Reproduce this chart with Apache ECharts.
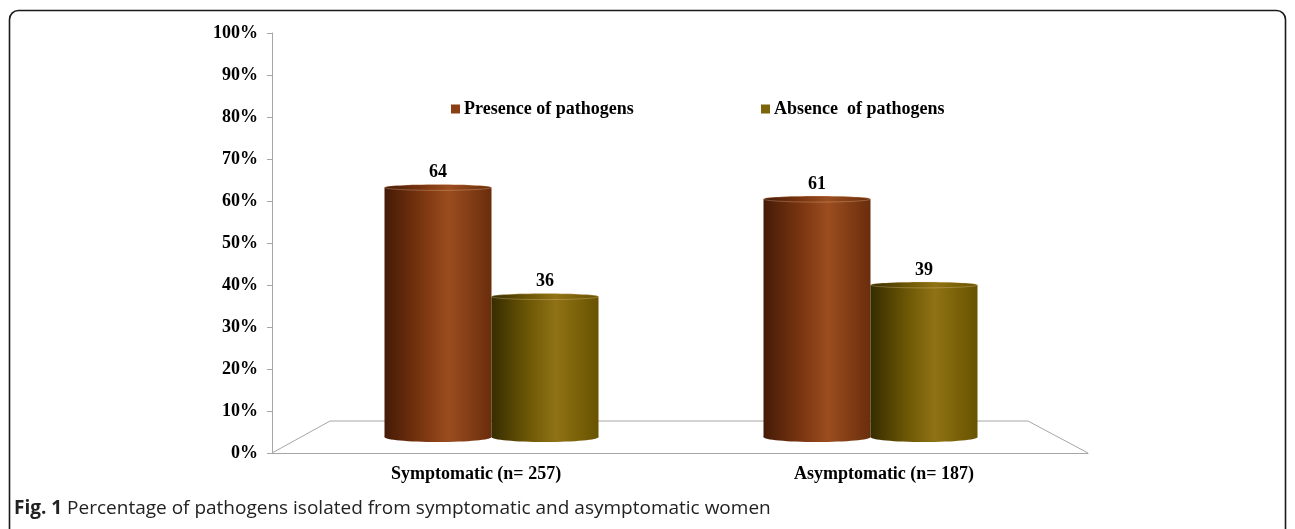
<!DOCTYPE html>
<html>
<head>
<meta charset="utf-8">
<script src="https://cdn.jsdelivr.net/npm/echarts@6/dist/echarts.min.js"></script>
<style>
  html, body { margin: 0; padding: 0; background: #fff; }
  #chart { width: 1295px; height: 529px; }
</style>
</head>
<body>
<div id="chart"></div>
<script>
const categories = ['Symptomatic (n= 257)', 'Asymptomatic (n= 187)']
const presence = [64, 61]
const absence = [36, 39]
const seriesNames = ['Presence of pathogens', 'Absence  of pathogens']
const yMin = 0
const yMax = 100
const yStep = 10

const SERIF = '"Liberation Serif", "Times New Roman", serif'
const BAR_W = 107

const presenceStops = [
  { offset: 0, color: '#451b07' },
  { offset: 0.35, color: '#7a3510' },
  { offset: 0.6, color: '#9b4d1f' },
  { offset: 1, color: '#6a2d0c' },
]
const absenceStops = [
  { offset: 0, color: '#362d00' },
  { offset: 0.35, color: '#6e5806' },
  { offset: 0.6, color: '#8f7214' },
  { offset: 1, color: '#685300' },
]

// side: -1 left bar of the pair, +1 right bar
function cylinder(side, stops) {
  return function (params, api) {
    const cat = api.value(0)
    const v = api.value(1)
    const top = api.coord([cat, v])
    const base = api.coord([cat, 0])
    const cx = top[0] + side * BAR_W / 2
    const x0 = cx - BAR_W / 2
    const fill = () => new echarts.graphic.LinearGradient(0, 0, 1, 0, stops)
    return {
      type: 'group',
      children: [
        {
          type: 'ellipse',
          shape: { cx: cx, cy: base[1], rx: BAR_W / 2, ry: 5 },
          style: { fill: fill() },
        },
        {
          type: 'rect',
          shape: { x: x0, y: top[1], width: BAR_W, height: base[1] - top[1] },
          style: { fill: fill() },
        },
        {
          type: 'ellipse',
          shape: { cx: cx, cy: top[1], rx: BAR_W / 2, ry: 3 },
          style: { fill: fill(), stroke: 'rgba(255,220,180,0.35)', lineWidth: 0.8 },
        },
        {
          type: 'text',
          x: cx,
          y: top[1] - 6,
          style: {
            text: String(v),
            font: 'bold 18px ' + SERIF,
            fill: '#000',
            align: 'center',
            verticalAlign: 'bottom',
          },
        },
      ],
    }
  }
}

const chart = echarts.init(document.getElementById('chart'))

const legendText = { fontFamily: SERIF, fontWeight: 'bold', fontSize: 18, color: '#000', padding: [0, 0, 0, -1] }

chart.setOption({
  animation: false,
  textStyle: { fontFamily: SERIF },
  grid: [
    { left: 272, right: 207, top: 33, bottom: 76 },
    // mid-depth plane of the 3D floor, where the cylinders stand
    { left: 302, right: 235, top: 47, bottom: 92 },
  ],
  legend: [
    {
      data: [seriesNames[0]],
      left: 446, top: 95,
      icon: 'rect', itemWidth: 9, itemHeight: 9, itemGap: 5,
      textStyle: legendText,
    },
    {
      data: [seriesNames[1]],
      left: 756, top: 95,
      icon: 'rect', itemWidth: 9, itemHeight: 9, itemGap: 5,
      textStyle: legendText,
    },
  ],
  xAxis: [
    {
      type: 'category',
      gridIndex: 0,
      data: categories,
      boundaryGap: true,
      axisLine: { lineStyle: { color: '#a6a6a6', width: 1 } },
      axisTick: { length: 6, lineStyle: { color: '#a6a6a6' } },
      axisLabel: { fontFamily: SERIF, fontWeight: 'bold', fontSize: 18, color: '#000', margin: 12 },
    },
    { type: 'category', gridIndex: 1, data: categories, show: false },
  ],
  yAxis: [
    {
      type: 'value',
      gridIndex: 0,
      min: yMin, max: yMax, interval: yStep,
      axisLine: { show: true, lineStyle: { color: '#a6a6a6', width: 1 } },
      axisTick: { show: true, length: 5, lineStyle: { color: '#a6a6a6' } },
      splitLine: { show: false },
      axisLabel: {
        fontFamily: SERIF, fontWeight: 'bold', fontSize: 18, color: '#000', margin: 14,
        formatter: v => v + '%',
      },
    },
    { type: 'value', gridIndex: 1, min: yMin, max: yMax, show: false },
  ],
  graphic: [
    {
      type: 'rect',
      shape: { x: 9.5, y: 10.5, width: 1276, height: 540, r: 9 },
      style: { fill: 'none', stroke: '#1a1a1a', lineWidth: 1.6 },
      silent: true,
    },
    {
      type: 'polyline',
      shape: { points: [[272, 453], [330, 421], [1028, 421], [1088, 453]] },
      style: { fill: 'none', stroke: '#a6a6a6', lineWidth: 1 },
      silent: true,
    },
    {
      type: 'text',
      left: 14, top: 499,
      style: {
        text: '{b|Fig. 1} Percentage of pathogens isolated from symptomatic and asymptomatic women',
        font: '19px "Open Sans", sans-serif',
        fill: '#222',
        rich: {
          b: { fontFamily: '"Open Sans", sans-serif', fontWeight: 'bold', fontSize: 19, fill: '#222' },
        },
      },
    },
  ],
  series: [
    {
      name: seriesNames[0],
      type: 'custom',
      xAxisIndex: 1, yAxisIndex: 1,
      clip: false,
      itemStyle: { color: '#8a3f14' },
      renderItem: cylinder(-1, presenceStops),
      data: presence.map((v, i) => [i, v]),
    },
    {
      name: seriesNames[1],
      type: 'custom',
      xAxisIndex: 1, yAxisIndex: 1,
      clip: false,
      itemStyle: { color: '#7d6408' },
      renderItem: cylinder(1, absenceStops),
      data: absence.map((v, i) => [i, v]),
    },
  ],
})
</script>
</body>
</html>
